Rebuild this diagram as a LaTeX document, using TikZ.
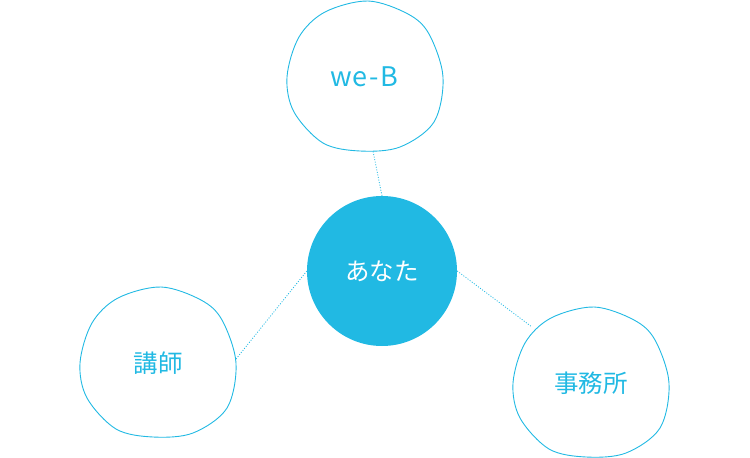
\documentclass[tikz,border=0pt]{standalone}
\usepackage{fontspec}
\setmainfont{Noto Sans CJK JP}
\newfontfamily\latinfont[LetterSpace=5]{Noto Sans CJK JP}
\usetikzlibrary{positioning}
\definecolor{highlight}{HTML}{21B9E3}

\tikzset{
  label text/.style={text=highlight, font=\fontsize{24.5}{28}\selectfont},
  link/.style={highlight, line width=0.8pt, dash pattern=on 1pt off 1.6pt},
  blob/.pic={
    \draw[highlight, line width=0.9pt] plot[smooth cycle, tension=0.55] coordinates {
      (3,-76) (43,-63) (64,-43) (78,0) (69,45) (35,70) (-5,74) (-42,66)
      (-71,35) (-78,0) (-66,-40) (-40,-65)};
  }
}

\begin{document}
\begin{tikzpicture}[x=1pt, y=-1pt]
  \useasboundingbox (0,0) rectangle (750,458);
  % centre
  \node[circle, fill=highlight, minimum size=150pt, inner sep=0pt, text=white,
        font=\fontsize{24.5}{28}\selectfont] (you) at (382,271) {あなた};
  % the three blobs
  \pic at (365,77) {blob};
  \node[label text, font=\latinfont\fontsize{27}{30}\selectfont] (web) at (364,77) {we-B};
  \pic at (158,363) {blob};
  \node[label text] (teacher) at (158,363) {講師};
  \pic at (591,383) {blob};
  \node[label text] (office) at (591,383) {事務所};
  \coordinate (webEnd) at ([shift={(8,74)}]365,77);
  \coordinate (teacherEnd) at ([shift={(78,-4)}]teacher.center);
  \coordinate (officeEnd) at ([shift={(-59,-56)}]office.center);
  \draw[link] (you.north) -- (webEnd);
  \draw[link] (you.west) -- (teacherEnd);
  \draw[link] (you.east) -- (officeEnd);
\end{tikzpicture}
\end{document}
